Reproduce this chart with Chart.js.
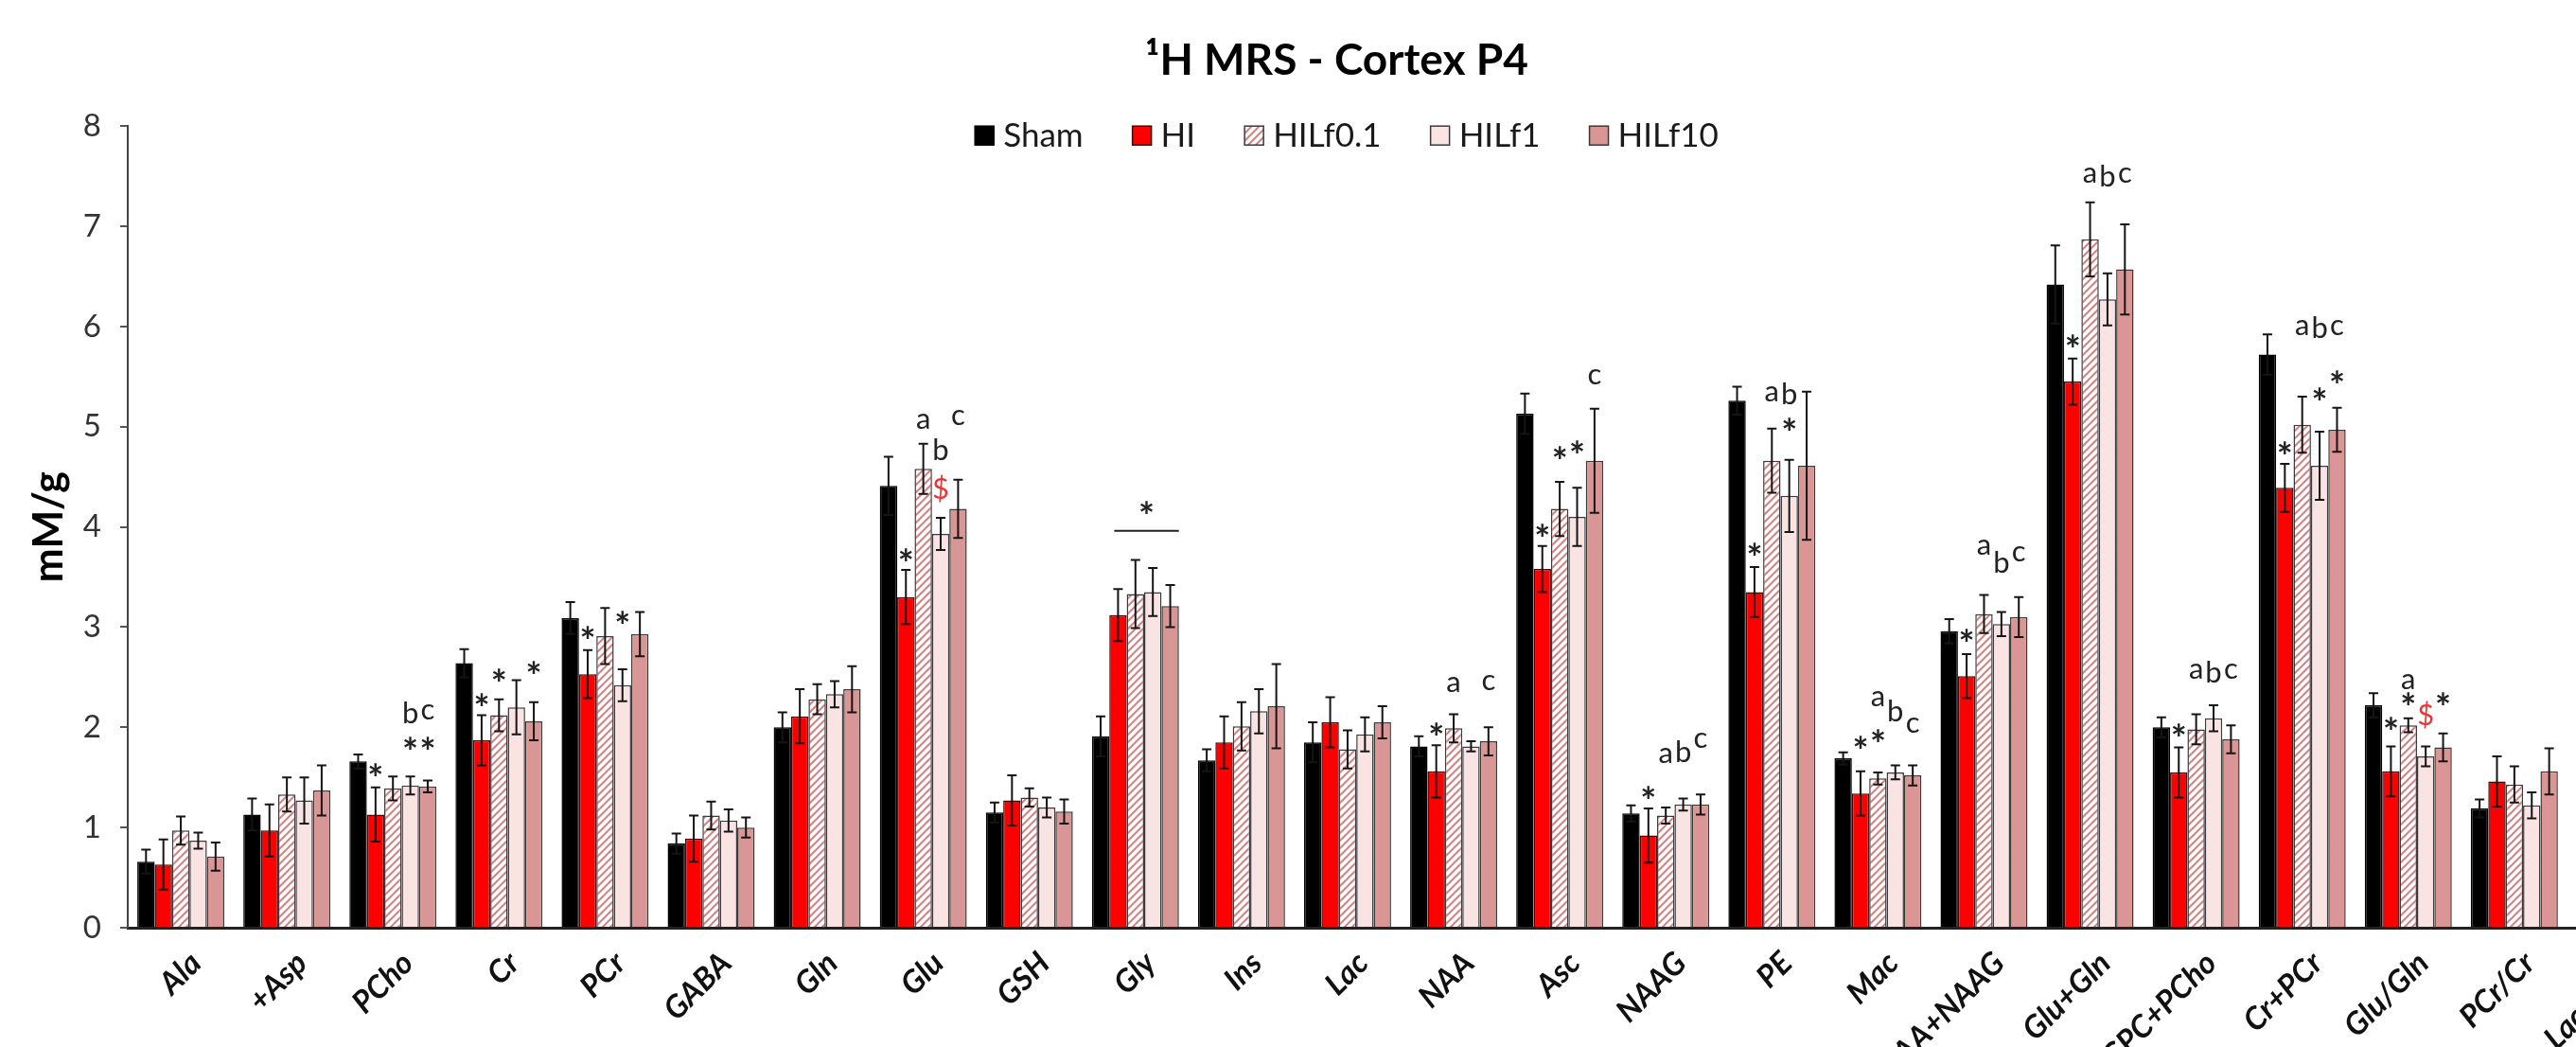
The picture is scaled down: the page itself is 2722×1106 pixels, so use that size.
<!DOCTYPE html>
<html lang="en">
<head>
<meta charset="UTF-8">
<title>1H MRS - Cortex P4</title>
<script src="https://cdn.jsdelivr.net/npm/chart.js"></script>
<style>
    html, body { margin: 0; padding: 0; background: #fff; overflow: hidden; }
    #wrap { width: 2846px; height: 1180px; }
</style>
</head>
<body>
<div id="wrap"><canvas id="mrs" width="2846" height="1180"></canvas></div>

<script>
    // metabolites (the last one runs off the right edge of the figure)
    const metabolites = ['Ala', '+Asp', 'PCho', 'Cr', 'PCr', 'GABA', 'Gln', 'Glu', 'GSH', 'Gly', 'Ins', 'Lac',
        'NAA', 'Asc', 'NAAG', 'PE', 'Mac', 'NAA+NAAG', 'Glu+Gln', 'GPC+PCho', 'Cr+PCr', 'Glu/Gln', 'PCr/Cr', 'Lac/NAA'];

    const sham      = [0.66, 1.13, 1.66, 2.64, 3.09, 0.84, 2.00, 4.41, 1.15, 1.91, 1.67, 1.85, 1.81, 5.13, 1.14, 5.26, 1.69, 2.96, 6.42, 2.00, 5.72, 2.22, 1.19, null];
    const shamSd    = [0.12, 0.16, 0.07, 0.14, 0.16, 0.10, 0.15, 0.29, 0.10, 0.20, 0.11, 0.20, 0.10, 0.20, 0.08, 0.14, 0.06, 0.12, 0.39, 0.10, 0.20, 0.12, 0.09, null];
    const hi        = [0.63, 0.97, 1.13, 1.87, 2.53, 0.89, 2.11, 3.30, 1.27, 3.12, 1.85, 2.05, 1.56, 3.58, 0.92, 3.35, 1.34, 2.51, 5.45, 1.55, 4.39, 1.56, 1.46, null];
    const hiSd      = [0.25, 0.26, 0.27, 0.25, 0.24, 0.23, 0.27, 0.27, 0.25, 0.26, 0.26, 0.25, 0.26, 0.23, 0.27, 0.25, 0.22, 0.22, 0.23, 0.25, 0.24, 0.25, 0.25, null];
    const hilf01    = [0.97, 1.33, 1.39, 2.12, 2.91, 1.12, 2.28, 4.58, 1.30, 3.33, 2.01, 1.78, 1.99, 4.18, 1.12, 4.66, 1.49, 3.13, 6.87, 1.98, 5.02, 2.02, 1.43, null];
    const hilf01Sd  = [0.14, 0.17, 0.12, 0.16, 0.28, 0.14, 0.15, 0.25, 0.09, 0.34, 0.24, 0.19, 0.14, 0.27, 0.08, 0.32, 0.06, 0.19, 0.37, 0.15, 0.28, 0.07, 0.18, null];
    const hilf1     = [0.87, 1.27, 1.42, 2.20, 2.42, 1.07, 2.33, 3.93, 1.20, 3.35, 2.16, 1.93, 1.81, 4.10, 1.23, 4.31, 1.55, 3.03, 6.27, 2.09, 4.61, 1.71, 1.22, null];
    const hilf1Sd   = [0.08, 0.23, 0.09, 0.27, 0.16, 0.11, 0.13, 0.16, 0.10, 0.24, 0.22, 0.17, 0.05, 0.29, 0.06, 0.36, 0.07, 0.12, 0.26, 0.13, 0.34, 0.10, 0.13, null];
    const hilf10    = [0.71, 1.37, 1.41, 2.06, 2.93, 1.00, 2.38, 4.18, 1.16, 3.21, 2.21, 2.05, 1.86, 4.66, 1.23, 4.61, 1.52, 3.10, 6.57, 1.88, 4.97, 1.80, 1.56, null];
    const hilf10Sd  = [0.14, 0.25, 0.06, 0.19, 0.22, 0.10, 0.23, 0.29, 0.12, 0.21, 0.42, 0.16, 0.14, 0.52, 0.10, 0.74, 0.10, 0.20, 0.45, 0.14, 0.22, 0.14, 0.23, null];

    const yTicks = [0, 1, 2, 3, 4, 5, 6, 7, 8];

    // significance marks: [metabolite, group (0 Sham .. 4 HILf10), mark, height in mM/g]
    const marks = [
        [2, 1, '*', 1.58], [2, 3, '*', 1.84], [2, 4, '*', 1.84], [2, 3, 'b', 2.15], [2, 4, 'c', 2.15],
        [3, 1, '*', 2.28], [3, 2, '*', 2.52], [3, 4, '*', 2.60],
        [4, 1, '*', 2.95], [4, 3, '*', 3.10],
        [7, 1, '*', 3.72], [7, 2, 'a', 5.05], [7, 3, 'b', 4.78], [7, 3, '$', 4.38], [7, 4, 'c', 5.09],
        [12, 1, '*', 1.98], [12, 2, 'a', 2.43], [12, 4, 'c', 2.45],
        [13, 1, '*', 3.97], [13, 2, '*', 4.74], [13, 3, '*', 4.80], [13, 4, 'c', 5.50],
        [14, 1, '*', 1.35], [14, 2, 'a', 1.72], [14, 3, 'b', 1.76], [14, 4, 'c', 1.87],
        [15, 1, '*', 3.78], [15, 2, 'a', 5.33], [15, 3, 'b', 5.33], [15, 3, '*', 5.03],
        [16, 1, '*', 1.85], [16, 2, '*', 1.92], [16, 2, 'a', 2.29], [16, 3, 'b', 2.17], [16, 4, 'c', 2.02],
        [17, 1, '*', 2.92], [17, 2, 'a', 3.80], [17, 3, 'b', 3.65], [17, 4, 'c', 3.73],
        [18, 1, '*', 5.86], [18, 2, 'a', 7.51], [18, 3, 'b', 7.51], [18, 4, 'c', 7.51],
        [19, 1, '*', 1.97], [19, 2, 'a', 2.56], [19, 3, 'b', 2.56], [19, 4, 'c', 2.56],
        [20, 1, '*', 4.79], [20, 3, '*', 5.33], [20, 4, '*', 5.50], [20, 2, 'a', 5.99], [20, 3, 'b', 5.99], [20, 4, 'c', 5.99],
        [21, 1, '*', 2.04], [21, 2, '*', 2.29], [21, 2, 'a', 2.46], [21, 3, '$', 2.13], [21, 4, '*', 2.29]
    ];
    // Gly: one bar over HI..HILf10 -> [metabolite, from group, to group, line height, star height]
    const glyBracket = [9, 1, 4, 3.96, 4.19];

    const FONT = 'Lato, "Open Sans", sans-serif';

    function stripes(bg, fg) {
        const c = document.createElement('canvas');
        c.width = 8; c.height = 8;
        const g = c.getContext('2d');
        g.fillStyle = bg;
        g.fillRect(0, 0, 8, 8);
        g.strokeStyle = fg;
        g.lineWidth = 2;
        g.beginPath();
        g.moveTo(-1, 9); g.lineTo(9, -1);
        g.moveTo(-1, 1); g.lineTo(1, -1);
        g.moveTo(7, 9); g.lineTo(9, 7);
        g.stroke();
        return g.createPattern(c, 'repeat');
    }

    // error bars (+/- SD) drawn from each bar element
    const errorBars = {
        id: 'errorBars',
        afterDatasetsDraw(chart) {
            const ctx = chart.ctx;
            const y = chart.scales.y;
            ctx.save();
            ctx.strokeStyle = '#151515';
            ctx.lineWidth = 2;
            chart.data.datasets.forEach((ds, di) => {
                chart.getDatasetMeta(di).data.forEach((bar, i) => {
                    const v = ds.data[i], e = ds.sd[i];
                    if (v == null || e == null) return;
                    const top = y.getPixelForValue(v + e);
                    const bot = y.getPixelForValue(v - e);
                    const cap = 5;
                    ctx.beginPath();
                    ctx.moveTo(bar.x, top); ctx.lineTo(bar.x, bot);
                    ctx.moveTo(bar.x - cap, top); ctx.lineTo(bar.x + cap, top);
                    ctx.moveTo(bar.x - cap, bot); ctx.lineTo(bar.x + cap, bot);
                    ctx.stroke();
                });
            });
            ctx.restore();
        }
    };

    function centredText(ctx, txt, x, yc) {
        const m = ctx.measureText(txt);
        ctx.fillText(txt, x, yc - (m.actualBoundingBoxDescent - m.actualBoundingBoxAscent) / 2);
    }

    const sigMarks = {
        id: 'sigMarks',
        afterDatasetsDraw(chart) {
            const ctx = chart.ctx;
            const y = chart.scales.y;
            ctx.save();
            ctx.textAlign = 'center';
            ctx.textBaseline = 'alphabetic';
            marks.forEach(([cat, grp, txt, h]) => {
                const bar = chart.getDatasetMeta(grp).data[cat];
                if (txt === '*') {
                    ctx.font = 'bold 40px ' + FONT;
                    ctx.fillStyle = '#222';
                } else if (txt === '$') {
                    ctx.font = '31px ' + FONT;
                    ctx.fillStyle = '#e8383a';
                } else {
                    ctx.font = '31px ' + FONT;
                    ctx.fillStyle = '#222';
                }
                centredText(ctx, txt, bar.x, y.getPixelForValue(h));
            });

            const [cat, g0, g1, lineH, starH] = glyBracket;
            const a = chart.getDatasetMeta(g0).data[cat];
            const b = chart.getDatasetMeta(g1).data[cat];
            const x0 = a.x - 4, x1 = b.x + b.width / 2;
            ctx.strokeStyle = '#222';
            ctx.lineWidth = 2;
            ctx.beginPath();
            ctx.moveTo(x0, y.getPixelForValue(lineH));
            ctx.lineTo(x1, y.getPixelForValue(lineH));
            ctx.stroke();
            ctx.font = 'bold 40px ' + FONT;
            ctx.fillStyle = '#222';
            centredText(ctx, '*', (x0 + x1) / 2, y.getPixelForValue(starH));
            ctx.restore();
        }
    };

    // legend row sitting just inside the top of the plot, centred on the figure
    const boxLegend = {
        id: 'boxLegend',
        afterDraw(chart) {
            const ctx = chart.ctx;
            const sets = chart.data.datasets;
            const box = 20, toText = 10, between = 52;
            ctx.save();
            ctx.font = '35px ' + FONT;
            const widths = sets.map(ds => box + toText + ctx.measureText(ds.label).width);
            const total = widths.reduce((s, w) => s + w, 0) + between * (sets.length - 1);
            let x = chart.width / 2 - total / 2;
            const yc = chart.chartArea.top + 10;
            sets.forEach((ds, i) => {
                ctx.fillStyle = ds.backgroundColor;
                ctx.fillRect(x, yc - box / 2, box, box);
                ctx.strokeStyle = ds.borderColor;
                ctx.lineWidth = 1.5;
                ctx.strokeRect(x, yc - box / 2, box, box);
                ctx.fillStyle = '#1a1a1a';
                ctx.textAlign = 'left';
                ctx.textBaseline = 'middle';
                ctx.fillText(ds.label, x + box + toText, yc + 1);
                x += widths[i] + between;
            });
            ctx.restore();
        }
    };

    const chart = new Chart(document.getElementById('mrs'), {
        type: 'bar',
        data: {
            labels: metabolites,
            datasets: [
                { label: 'Sham', data: sham, sd: shamSd, backgroundColor: '#000000', borderColor: '#000000' },
                { label: 'HI', data: hi, sd: hiSd, backgroundColor: '#ff0000', borderColor: '#3c0a0a' },
                { label: 'HILf0.1', data: hilf01, sd: hilf01Sd, backgroundColor: stripes('#ffffff', '#d08585'), borderColor: '#3a3a3a' },
                { label: 'HILf1', data: hilf1, sd: hilf1Sd, backgroundColor: '#f9e3e3', borderColor: '#3a3a3a' },
                { label: 'HILf10', data: hilf10, sd: hilf10Sd, backgroundColor: '#d99694', borderColor: '#3a3a3a' }
            ]
        },
        options: {
            responsive: false,
            animation: false,
            devicePixelRatio: 1,
            layout: { padding: { left: 0, right: 21, top: 0, bottom: 0 } },
            datasets: {
                bar: { barPercentage: 1.0, categoryPercentage: 0.82, borderWidth: 1.5 }
            },
            plugins: {
                legend: { display: false },
                tooltip: { enabled: false },
                title: {
                    display: true,
                    text: '\u00B9H MRS - Cortex P4',
                    color: '#000',
                    font: { family: FONT, size: 46, weight: 'bold' },
                    padding: { top: 37, bottom: 41 }
                }
            },
            scales: {
                x: {
                    offset: true,
                    grid: { display: false },
                    border: { display: true, color: '#222', width: 3 },
                    ticks: {
                        autoSkip: false,
                        minRotation: 45,
                        maxRotation: 45,
                        padding: 10,
                        labelOffset: 16,
                        color: '#111',
                        font: { family: FONT, size: 33, weight: 'bold', style: 'italic' }
                    },
                    afterFit: s => { s.height = 200; }
                },
                y: {
                    min: 0,
                    max: 8,
                    afterBuildTicks: s => { s.ticks = yTicks.map(v => ({ value: v })); },
                    grid: { drawOnChartArea: false, drawTicks: true, tickLength: 8, color: '#555', lineWidth: 2 },
                    border: { display: true, color: '#444', width: 2 },
                    ticks: {
                        padding: 20,
                        color: '#333',
                        font: { family: FONT, size: 33 }
                    },
                    title: {
                        display: true,
                        text: 'mM/g',
                        color: '#000',
                        font: { family: FONT, size: 43, weight: 'bold' },
                        padding: { top: 26, bottom: 0 }
                    },
                    afterFit: s => { s.width = 135; }
                }
            }
        },
        plugins: [errorBars, sigMarks, boxLegend]
    });
</script>
</body>
</html>
